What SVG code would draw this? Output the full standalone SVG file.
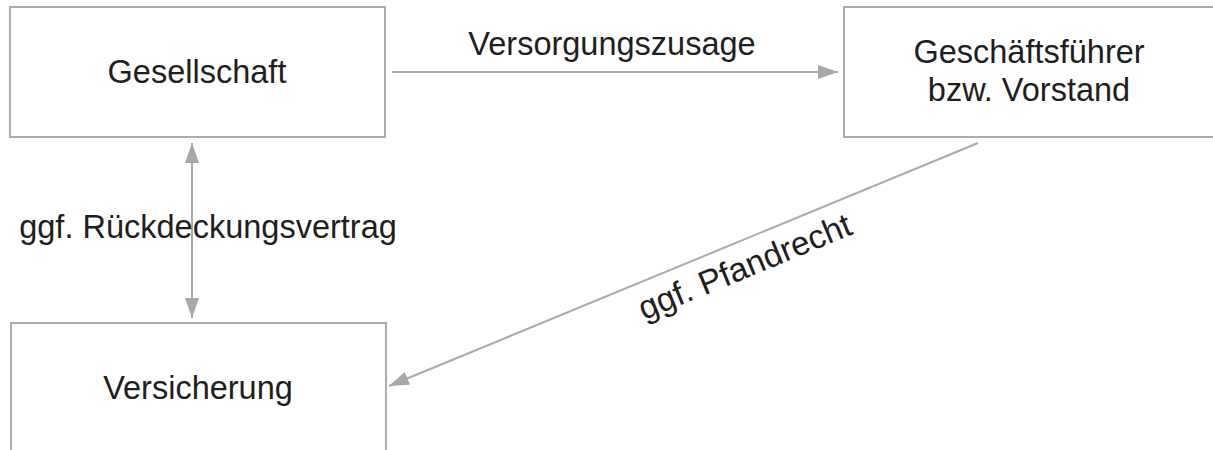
<svg xmlns="http://www.w3.org/2000/svg" width="1213" height="450" viewBox="0 0 1213 450">
<defs>
<style>
.box{fill:#fff;stroke:#ababab;stroke-width:2}
.t{font-family:"Liberation Sans",Arial,sans-serif;font-size:32.5px;fill:#1e1e1e}
.c{fill:none;stroke:#ababab;stroke-width:2}
</style>
<marker id="ah" viewBox="0 0 20 14" refX="20" refY="7" markerWidth="20" markerHeight="14" markerUnits="userSpaceOnUse" orient="auto-start-reverse">
<path d="M0,0 L20,7 L0,14 Z" fill="#a8a8a8"/>
</marker>
</defs>
<rect width="1213" height="450" fill="#fff"/>
<g id="connectors">
<line class="c" x1="392" y1="72" x2="838" y2="72" marker-end="url(#ah)"/>
<line class="c" x1="192" y1="143" x2="192" y2="318" marker-start="url(#ah)" marker-end="url(#ah)"/>
<line class="c" x1="978" y1="143" x2="389" y2="386" marker-end="url(#ah)"/>
<text class="t" x="612" y="55" text-anchor="middle">Versorgungszusage</text>
<text class="t" x="208" y="238" text-anchor="middle">ggf. Rückdeckungsvertrag</text>
<text class="t" transform="translate(749,277) rotate(-22.4)" x="0" y="0" text-anchor="middle" style="font-size:33.5px">ggf. Pfandrecht</text>
</g>
<g id="gesellschaft">
<rect class="box" x="10" y="7" width="375" height="130"/>
<text class="t" x="197" y="83" text-anchor="middle">Gesellschaft</text>
</g>
<g id="geschaeftsfuehrer">
<rect class="box" x="844" y="7" width="380" height="130"/>
<text class="t" x="1029" y="63" text-anchor="middle">Geschäftsführer</text>
<text class="t" x="1029" y="101" text-anchor="middle">bzw. Vorstand</text>
</g>
<g id="versicherung">
<rect class="box" x="11" y="323" width="375" height="140"/>
<text class="t" x="198" y="399" text-anchor="middle">Versicherung</text>
</g>
</svg>
